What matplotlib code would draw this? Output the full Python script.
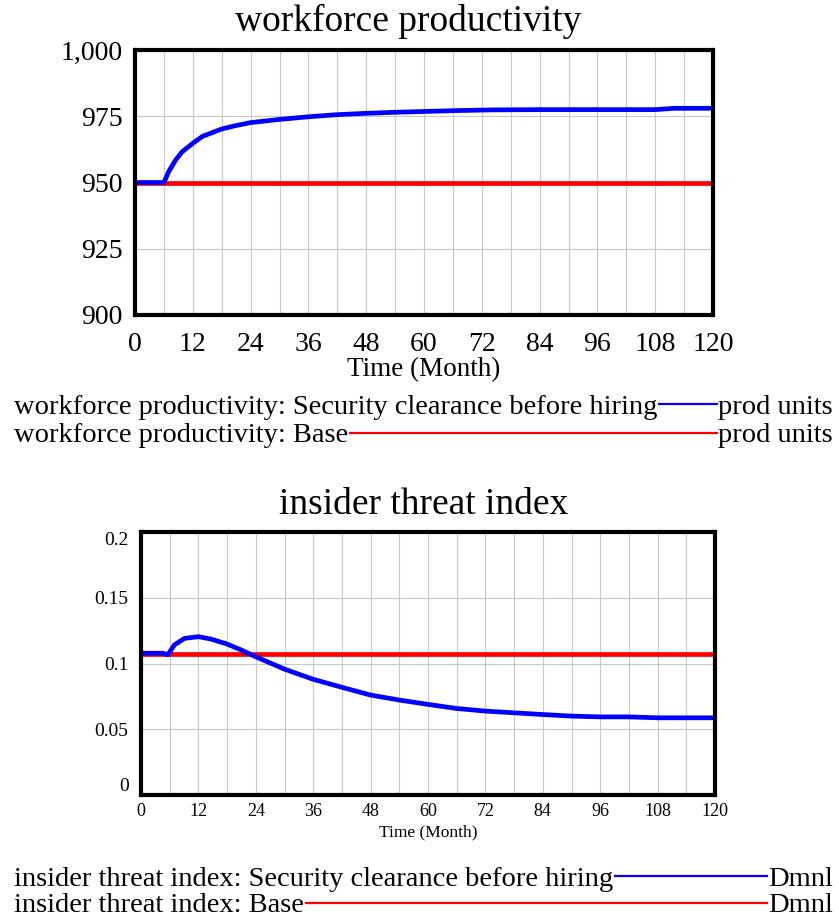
import matplotlib
matplotlib.use("Agg")
import matplotlib.pyplot as plt
from matplotlib.lines import Line2D

plt.rcParams['font.family'] = ['Liberation Serif', 'DejaVu Serif']

# ---------------- data ----------------
time_prod = [0, 6, 7, 8.4, 9.8, 12, 14, 18, 21, 24, 30, 36, 42, 48, 54, 60, 66, 74, 84, 96, 108, 112, 120]
prod_security = [950, 950, 954.1, 958.4, 961.6, 964.8, 967.4, 970.2, 971.5, 972.6, 973.8, 974.8,
                 975.6, 976.1, 976.5, 976.8, 977.1, 977.4, 977.5, 977.5, 977.5, 978.0, 978.0]
time_base = [0, 120]
prod_base = [950, 950]

time_threat = [0, 4.6, 5.6, 7, 9.1, 12, 14.6, 18, 21, 24, 30, 36, 42, 48, 54, 60, 66, 72, 78,
               84, 90, 96, 102, 108, 120]
threat_security = [0.1078, 0.1078, 0.1066, 0.1142, 0.1191, 0.1204, 0.1186, 0.1148, 0.1102, 0.1051,
                   0.0957, 0.0880, 0.0819, 0.0760, 0.0722, 0.0689, 0.0658, 0.0638, 0.0625, 0.0612,
                   0.0600, 0.0594, 0.0594, 0.0587, 0.0587]
threat_base = [0.1071, 0.1071]

x_ticks = [0, 12, 24, 36, 48, 60, 72, 84, 96, 108, 120]
prod_yticks = [900, 925, 950, 975, 1000]
prod_ylabels = ['900', '925', '950', '975', '1,000']
threat_yticks = [0, 0.05, 0.1, 0.15, 0.2]
threat_ylabels = ['0', '0.05', '0.1', '0.15', '0.2']

title_prod = "workforce productivity"
title_threat = "insider threat index"
legend_prod = ["workforce productivity: Security clearance before hiring", "workforce productivity: Base"]
legend_threat = ["insider threat index: Security clearance before hiring", "insider threat index: Base"]
unit_prod = "prod units"
unit_threat = "Dmnl"
xlabel = "Time (Month)"

BLUE = '#0000ff'
RED = '#ff0000'

W, H = 839, 919
fig = plt.figure(figsize=(W / 100, H / 100), dpi=100)


def fx(px):
    return px / W


def fy(py):
    return 1 - py / H


def make_axes(left, top, right, bottom):
    ax = fig.add_axes([fx(left), fy(bottom), fx(right) - fx(left), (bottom - top) / H])
    for s in ax.spines.values():
        s.set_linewidth(3.0)
        s.set_color('black')
    ax.set_xlim(0, 120)
    ax.set_xticks(x_ticks)
    ax.set_xticks(range(0, 121, 6), minor=True)
    ax.grid(True, which='both', axis='x', color='#c8c8c8', linewidth=0.8)
    ax.grid(True, which='major', axis='y', color='#c8c8c8', linewidth=0.8)
    ax.tick_params(which='both', length=0)
    ax.set_axisbelow(True)
    return ax


# ---------------- top chart ----------------
ax1 = make_axes(135, 50, 713, 315)
ax1.plot(time_base, prod_base, color=RED, linewidth=3.4, solid_capstyle='butt')
ax1.plot(time_prod, prod_security, color=BLUE, linewidth=3.4, solid_capstyle='butt')
ax1.set_ylim(900, 1000)
ax1.set_yticks(prod_yticks)
ax1.set_yticklabels(prod_ylabels, fontsize=20)
ax1.set_xticklabels([str(t) for t in x_ticks], fontsize=20)
ax1.tick_params(axis='x', pad=12)
ax1.tick_params(axis='y', pad=9)
ax1.set_xlabel(xlabel, fontsize=19.5, labelpad=0)
fig.text(fx(408), fy(21), title_prod, fontsize=27, ha='center', va='center')

# ---------------- bottom chart ----------------
ax2 = make_axes(141, 532, 715, 795)
ax2.plot(time_base, threat_base, color=RED, linewidth=3.4, solid_capstyle='butt')
ax2.plot(time_threat, threat_security, color=BLUE, linewidth=3.4, solid_capstyle='butt')
ax2.set_ylim(0, 0.2)
ax2.set_yticks(threat_yticks)
ax2.set_yticklabels(threat_ylabels, fontsize=14)
ylabs = ax2.get_yticklabels()
ylabs[0].set_va('bottom')
ylabs[-1].set_va('top')
ax2.set_xticklabels([str(t) for t in x_ticks], fontsize=13)
ax2.tick_params(axis='x', pad=6)
ax2.tick_params(axis='y', pad=9)
ax2.set_xlabel(xlabel, fontsize=12.5, labelpad=3)
fig.text(fx(424), fy(505), title_threat, fontsize=27, ha='center', va='center')

# ---------------- legends ----------------
legend_rows = [
    (legend_prod[0], unit_prod, BLUE, 407),
    (legend_prod[1], unit_prod, RED, 436),
    (legend_threat[0], unit_threat, BLUE, 879),
    (legend_threat[1], unit_threat, RED, 906),
]
items = []
for label, unit, color, yc in legend_rows:
    t1 = fig.text(fx(14), fy(yc), label, fontsize=20.5, ha='left', va='center')
    t2 = fig.text(fx(833), fy(yc), unit, fontsize=20.5, ha='right', va='center')
    items.append((t1, t2, color, yc))

fig.canvas.draw()
renderer = fig.canvas.get_renderer()
inv = fig.transFigure.inverted()
for t1, t2, color, yc in items:
    b1 = t1.get_window_extent(renderer)
    b2 = t2.get_window_extent(renderer)
    x0 = inv.transform((b1.x1 + 2, 0))[0]
    x1 = inv.transform((b2.x0 - 1, 0))[0]
    yl = fy(yc - 3)
    fig.add_artist(Line2D([x0, x1], [yl, yl], color=color, linewidth=1.6, transform=fig.transFigure))

fig.savefig('out.png', dpi=100)
